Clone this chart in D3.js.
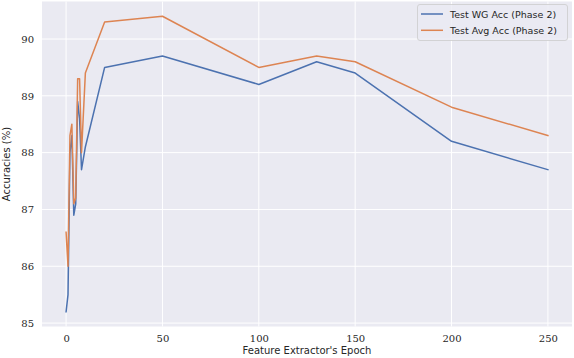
<!DOCTYPE html>
<html><head><meta charset="utf-8">
<script src="https://cdn.jsdelivr.net/npm/d3@7"></script>
<style>body{margin:0;background:#fff}</style>
</head><body>
<svg id="c" width="574" height="358"></svg>
<script>
const epochs = [0, 1, 2, 3, 4, 5, 6, 7, 8, 10, 20, 50, 100, 130, 150, 200, 250];
const wgAcc  = [85.2, 85.5, 88.0, 88.3, 86.9, 87.1, 88.9, 88.6, 87.7, 88.1, 89.5, 89.7, 89.2, 89.6, 89.4, 88.2, 87.7];
const avgAcc = [86.6, 86.0, 88.3, 88.5, 87.1, 87.2, 89.3, 89.3, 88.0, 89.4, 90.3, 90.4, 89.5, 89.7, 89.6, 88.8, 88.3];
const seriesNames = ["Test WG Acc (Phase 2)", "Test Avg Acc (Phase 2)"];
const colors = ["#4C72B0", "#DD8452"];
const xTicks = [0, 50, 100, 150, 200, 250];
const yTicks = [85, 86, 87, 88, 89, 90];

const svg = d3.select("#c");
const L = 42, R = 572, T = 1.5, B = 326.5;
const x = d3.scaleLinear().domain([-12.5, 262.5]).range([L, R]);
const y = d3.scaleLinear().domain([84.94, 90.66]).range([B, T]);

svg.append("rect").attr("x", L).attr("y", T).attr("width", R - L).attr("height", B - T).attr("fill", "#EAEAF2");

const g = svg.append("g");
g.selectAll(".gx").data(xTicks).join("line")
  .attr("x1", d => x(d)).attr("x2", d => x(d)).attr("y1", T).attr("y2", B)
  .attr("stroke", "#fff").attr("stroke-width", 1);
g.selectAll(".gy").data(yTicks).join("line")
  .attr("y1", d => y(d)).attr("y2", d => y(d)).attr("x1", L).attr("x2", R)
  .attr("stroke", "#fff").attr("stroke-width", 1);

const serif = "'DejaVu Serif', 'Liberation Serif', serif";
const sans = "'DejaVu Sans', sans-serif";

const xAxis = svg.append("g").attr("transform", `translate(0,${B})`)
  .call(d3.axisBottom(x).tickValues(xTicks).tickSize(0).tickPadding(8).tickFormat(d3.format("d")));
xAxis.select(".domain").remove();
xAxis.selectAll("text").style("font-family", serif).style("font-size", "10px").style("fill", "#262626");

const yAxis = svg.append("g").attr("transform", `translate(${L},0)`)
  .call(d3.axisLeft(y).tickValues(yTicks).tickSize(0).tickPadding(8).tickFormat(d3.format("d")));
yAxis.select(".domain").remove();
yAxis.selectAll("text").style("font-family", serif).style("font-size", "10px").style("fill", "#262626");

svg.append("text").attr("x", (L + R) / 2).attr("y", 354).attr("text-anchor", "middle")
  .style("font-family", sans).style("font-size", "10px").style("fill", "#262626")
  .text("Feature Extractor's Epoch");
svg.append("text").attr("transform", `translate(10,${(T + B) / 2}) rotate(-90)`).attr("text-anchor", "middle")
  .style("font-family", sans).style("font-size", "10px").style("fill", "#262626")
  .text("Accuracies (%)");

const line = d3.line().x(d => x(d[0])).y(d => y(d[1]));
[wgAcc, avgAcc].forEach((vals, i) => {
  svg.append("path").datum(epochs.map((e, k) => [e, vals[k]]))
    .attr("d", line).attr("fill", "none").attr("stroke", colors[i])
    .attr("stroke-width", 1.5).attr("stroke-linejoin", "round").attr("stroke-linecap", "square");
});

const lg = svg.append("g");
lg.append("rect").attr("x", 417.5).attr("y", 4.5).attr("width", 150).attr("height", 36).attr("rx", 2.5)
  .attr("fill", "#EAEAF2").attr("fill-opacity", 0.8).attr("stroke", "#cccccc").attr("stroke-width", 0.8);
seriesNames.forEach((n, i) => {
  const yy = 14 + i * 16.3;
  lg.append("line").attr("x1", 421).attr("x2", 443).attr("y1", yy).attr("y2", yy)
    .attr("stroke", colors[i]).attr("stroke-width", 1.5);
  lg.append("text").attr("x", 450).attr("y", yy + 3.5).style("font-family", sans).style("font-size", "9.5px")
    .style("fill", "#262626").text(n);
});
</script>
</body></html>
